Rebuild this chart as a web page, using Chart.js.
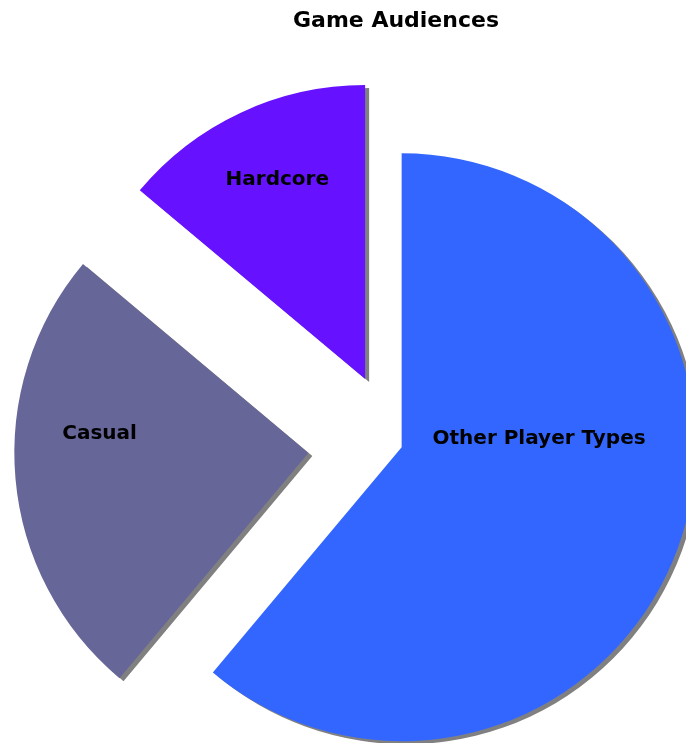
<!DOCTYPE html>
<html>
<head>
<meta charset="utf-8">
<title>Game Audiences</title>
<script src="https://cdn.jsdelivr.net/npm/chart.js@4/dist/chart.umd.min.js"></script>
<style>
  html, body { margin: 0; padding: 0; background: #ffffff; }
  #wrap { position: relative; width: 686px; height: 743px; }
</style>
</head>
<body>
<div id="wrap"><canvas id="chart"></canvas></div>
<script>
// Audience segments and their shares (percent)
const categories = ['Other Player Types', 'Casual', 'Hardcore'];
const shares = [61.1, 25.0, 13.9];
const sliceColors = ['#3366FF', '#666699', '#6611FF'];

// Pull each slice away from the centre and draw it with a hard drop shadow
const explodedSlices = {
  id: 'explodedSlices',
  beforeDatasetDraw(chart, args, opts) {
    const ctx = chart.ctx;
    args.meta.data.forEach((arc, i) => {
      const { startAngle, endAngle } = arc.getProps(['startAngle', 'endAngle'], true);
      const mid = (startAngle + endAngle) / 2;
      const d = opts.distance[i] || 0;
      ctx.save();
      ctx.translate(Math.cos(mid) * d, Math.sin(mid) * d);
      ctx.shadowColor = opts.shadowColor;
      ctx.shadowOffsetX = opts.shadowOffsetX;
      ctx.shadowOffsetY = opts.shadowOffsetY;
      ctx.shadowBlur = 0;
      arc.draw(ctx, chart.chartArea);
      ctx.restore();
    });
    return false;
  },
  // Slice names, written inside each exploded slice
  afterDatasetsDraw(chart, args, opts) {
    const ctx = chart.ctx;
    const meta = chart.getDatasetMeta(0);
    ctx.save();
    ctx.font = opts.labelFont;
    ctx.fillStyle = opts.labelColor;
    ctx.textAlign = 'center';
    ctx.textBaseline = 'middle';
    meta.data.forEach((arc, i) => {
      const { x, y, startAngle, endAngle, outerRadius } =
        arc.getProps(['x', 'y', 'startAngle', 'endAngle', 'outerRadius'], true);
      const mid = (startAngle + endAngle) / 2;
      const d = opts.distance[i] || 0;
      const cx = x + Math.cos(mid) * d;
      const cy = y + Math.sin(mid) * d;
      const a = startAngle + (endAngle - startAngle) * opts.labelAngle[i];
      const r = outerRadius * opts.labelRadius[i];
      ctx.fillText(chart.data.labels[i],
        cx + Math.cos(a) * r,
        cy + Math.sin(a) * r + opts.labelBaselineShift);
    });
    ctx.restore();
  }
};

Chart.defaults.font.family = '"DejaVu Sans", Verdana, sans-serif';

new Chart(document.getElementById('chart'), {
  type: 'pie',
  data: {
    labels: categories,
    datasets: [{
      data: shares,
      backgroundColor: sliceColors,
      borderWidth: 0
    }]
  },
  options: {
    responsive: true,
    maintainAspectRatio: false,
    animation: false,
    radius: 294,
    layout: { padding: { left: 106, right: 0, top: 0, bottom: 0 } },
    plugins: {
      legend: { display: false },
      tooltip: { enabled: false },
      title: {
        display: true,
        text: 'Game Audiences',
        color: '#000000',
        font: { size: 22, weight: 'bold' },
        padding: { top: 8, bottom: 113 }
      },
      explodedSlices: {
        distance: [6, 88, 73],
        shadowColor: '#808080',
        shadowOffsetX: 4,
        shadowOffsetY: 3,
        labelFont: 'bold 20px "DejaVu Sans", Verdana, sans-serif',
        labelColor: '#000000',
        labelAngle: [0.388, 0.623, 0.531],
        labelRadius: [0.469, 0.714, 0.75],
        labelBaselineShift: 3
      }
    }
  },
  plugins: [explodedSlices]
});
</script>
</body>
</html>
